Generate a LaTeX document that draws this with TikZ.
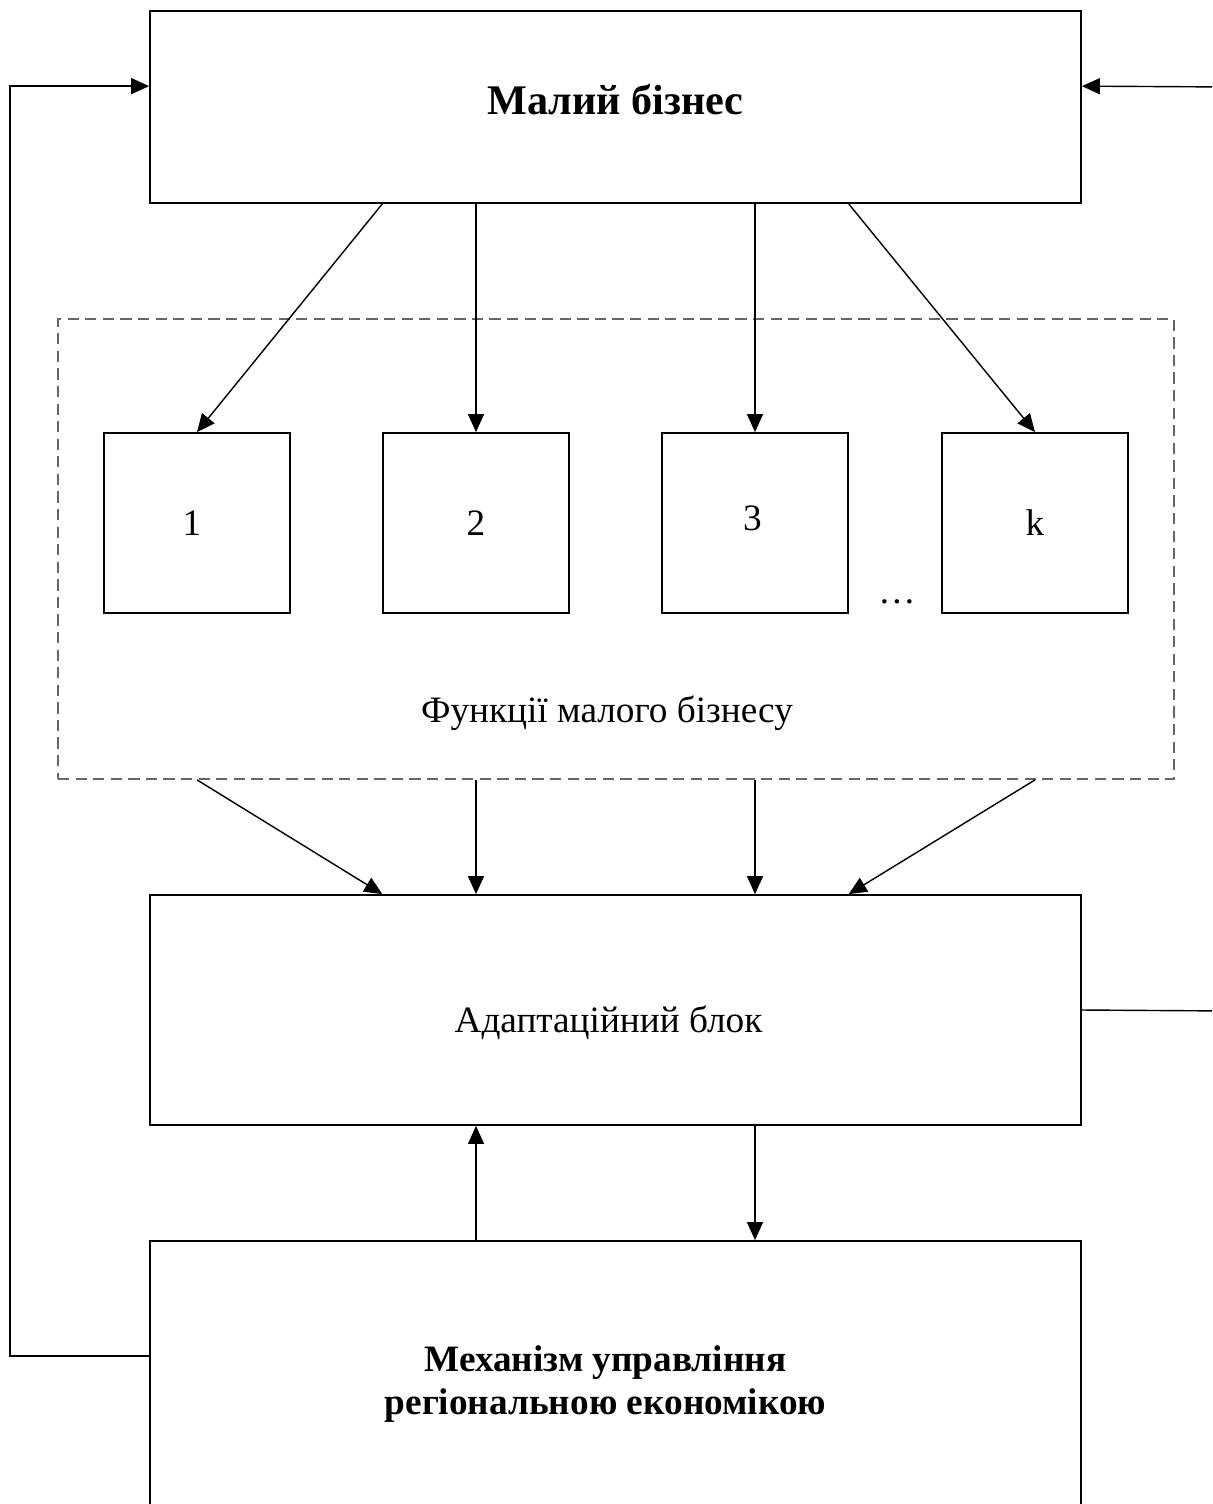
\documentclass[tikz,border=0pt]{standalone}
\usepackage{fontspec}
\setmainfont{Liberation Serif}
\usepackage{tikz}
\usetikzlibrary{arrows.meta}
\usetikzlibrary{calc}

\begin{document}
\begin{tikzpicture}[
    box/.style={draw, line width=0.5pt, inner sep=0pt},
    fbox/.style={box, minimum width=1.86cm, minimum height=1.80cm},
    arr/.style={-{Triangle[length=1.8mm, width=1.6mm]}, line width=0.4pt},
    every node/.style={font=\fontsize{10.6}{12.2}\selectfont}
  ]
    \useasboundingbox (0,0) rectangle (12.12,-15.04);
    \clip (0,0) rectangle (12.12,-15.04);

    % dashed frame with the functions
    \node[draw=gray!80!black, dash pattern=on 3.2pt off 1.8pt, line width=0.5pt,
          minimum width=11.16cm, minimum height=4.60cm] (fn) at (6.16,-5.49) {};
    \node (fnl) at (6.07,-7.13) {Функції малого бізнесу};

    \node[box, minimum width=9.31cm, minimum height=1.92cm] (mb) at (6.155,-1.07)
        {\fontsize{12}{14}\selectfont\raisebox{0.7mm}[\height][\depth]{\textbf{Малий бізнес}}};
    \node[box, minimum width=9.31cm, minimum height=2.30cm] (ab) at (6.155,-10.10)
        {\raisebox{-1.3mm}[\height][\depth]{Адаптаційний блок}\hspace*{1.4mm}};
    \node[box, minimum width=9.31cm, minimum height=2.86cm, align=center] (me) at (6.155,-13.84)
        {\textbf{Механізм управління}\hspace*{2mm}\\\textbf{регіональною економікою}\hspace*{2mm}};

    \node[fbox] (f1) at (1.97,-5.23) {\hspace*{-1mm}1};
    \node[fbox] (f2) at (4.76,-5.23) {2};
    \node[fbox] (f3) at (7.55,-5.23) {\raisebox{0.5mm}[\height][\depth]{3}\hspace*{0.5mm}};
    \node[fbox] (f4) at (10.35,-5.23) {k};
    \node (dots) at (8.97,-6.02) {\dots};

    \coordinate (rin) at (12.3,-0.87);
    \coordinate (rout) at (12.3,-10.11);

    % top box to functions
    \draw[arr] ($(mb.south west)!0.25!(mb.south east)$) -- (f1.north);
    \draw[arr] (mb.south -| f2) -- (f2.north);
    \draw[arr] (mb.south -| f3) -- (f3.north);
    \draw[arr] ($(mb.south west)!0.75!(mb.south east)$) -- (f4.north);

    % functions to adaptation block
    \draw[arr] (fn.south -| f1) -- ($(ab.north west)!0.25!(ab.north east)$);
    \draw[arr] (fn.south -| f2) -- (ab.north -| f2);
    \draw[arr] (fn.south -| f3) -- (ab.north -| f3);
    \draw[arr] (fn.south -| f4) -- ($(ab.north west)!0.75!(ab.north east)$);

    % adaptation block and mechanism
    \draw[arr] (me.north -| f2) -- (ab.south -| f2);
    \draw[arr] (ab.south -| f3) -- (me.north -| f3);

    % feedback loops
    \draw[arr] ([yshift=-1.16cm]me.north west) -- ++(-1.39,0) |- ([yshift=-0.76cm]mb.north west);
    \draw[arr] (rin) -- ([yshift=-0.76cm]mb.north east);
    \draw[line width=0.4pt] (ab.east) -- (rout);
\end{tikzpicture}
\end{document}
